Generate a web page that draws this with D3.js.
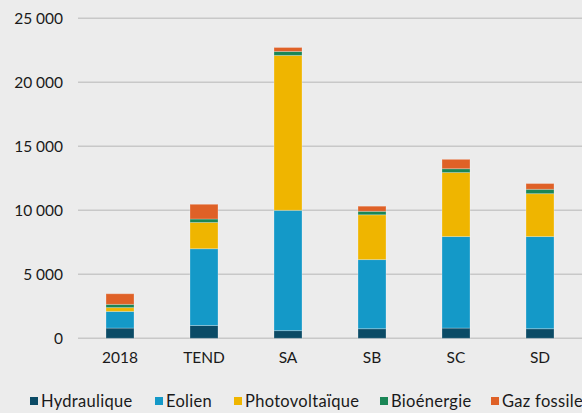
<!DOCTYPE html>
<html><head><meta charset="utf-8">
<script src="https://cdn.jsdelivr.net/npm/d3@7"></script>
<style>
html,body{margin:0;padding:0;background:#ececec;}
svg{display:block;font-family:Lato, "Open Sans", sans-serif;}
</style></head>
<body><svg id="chart" width="582" height="413"></svg>
<script>
const categories = ["2018","TEND","SA","SB","SC","SD"];
const seriesNames = ["Hydraulique","Eolien","Photovoltaïque","Bioénergie","Gaz fossile"];
const hydraulique = [800, 1000, 600, 750, 800, 750];
const eolien = [1300, 6000, 9400, 5400, 7150, 7200];
const photovoltaique = [300, 2050, 12100, 3500, 5000, 3350];
const bioenergie = [250, 270, 310, 270, 300, 340];
const gazFossile = [830, 1150, 310, 400, 730, 450];
const yTicks = [0, 5000, 10000, 15000, 20000, 25000];
const colors = ["#0b4b66","#1499c8","#efb500","#1a8656","#df6127"];

const seriesValues = [hydraulique, eolien, photovoltaique, bioenergie, gazFossile];
const table = categories.map((c,i)=>{
  const row = {cat:c};
  seriesNames.forEach((s,j)=>row[s]=seriesValues[j][i]);
  return row;
});

const svg = d3.select("#chart");
const x = d3.scaleBand().domain(categories).range([78,582]).paddingInner(2/3).paddingOuter(1/3);
const y = d3.scaleLinear().domain([0,25000]).range([338.3,18.3]);
const loc = d3.formatLocale({decimal:",", thousands:"\u202f", grouping:[3], currency:["","€"]});
const fmt = loc.format(",d");

// gridlines
svg.append("g").selectAll("line").data(yTicks).join("line")
  .attr("x1",78).attr("x2",582)
  .attr("y1",d=>y(d)).attr("y2",d=>y(d))
  .attr("stroke","#c8c8c8").attr("stroke-width",1.4);

// y labels
svg.append("g").selectAll("text").data(yTicks).join("text")
  .attr("x",63).attr("y",d=>y(d)).attr("dy","0.35em")
  .attr("text-anchor","end").attr("font-size",15.5).attr("fill","#1a1a1a")
  .text(d=>fmt(d));

// stacks
const stack = d3.stack().keys(seriesNames)(table);
svg.append("g").selectAll("g").data(stack).join("g")
  .attr("fill",(d,i)=>colors[i])
  .selectAll("rect").data(d=>d).join("rect")
  .attr("x",d=>x(d.data.cat)).attr("width",x.bandwidth())
  .attr("y",d=>y(d[1])).attr("height",d=>y(d[0])-y(d[1]))
  .attr("stroke","#ffffff").attr("stroke-opacity",0.25).attr("stroke-width",1);

// x labels
svg.append("g").selectAll("text").data(categories).join("text")
  .attr("x",d=>x(d)+x.bandwidth()/2).attr("y",363)
  .attr("text-anchor","middle").attr("font-size",15.5).attr("fill","#1a1a1a")
  .text(d=>d);

// legend
const legendX = [30,155,234,380,491];
const lg = svg.append("g").selectAll("g").data(seriesNames).join("g")
  .attr("transform",(d,i)=>`translate(${legendX[i]},401)`);
lg.append("rect").attr("x",0).attr("y",-4).attr("width",8).attr("height",8)
  .attr("fill",(d,i)=>colors[i]);
lg.append("text").attr("x",11).attr("y",0).attr("dy","0.35em")
  .attr("font-size",16.5).attr("letter-spacing",0.3).attr("fill","#1a1a1a").text(d=>d);
</script></body></html>
